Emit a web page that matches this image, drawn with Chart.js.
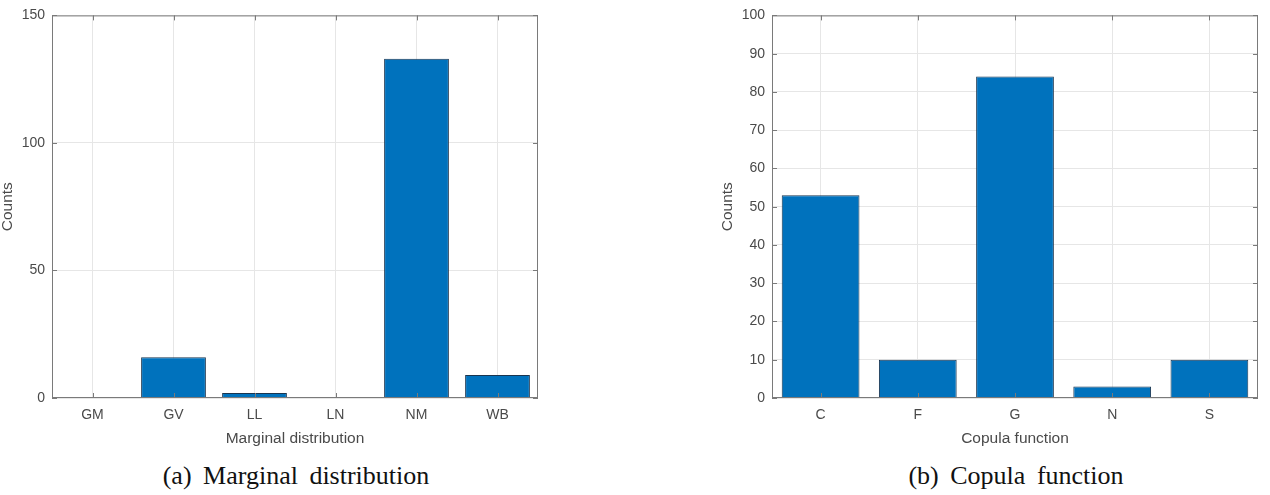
<!DOCTYPE html>
<html>
<head>
<meta charset="utf-8">
<script src="https://cdn.jsdelivr.net/npm/chart.js@4.4.0/dist/chart.umd.min.js"></script>
<style>
  body { margin: 0; background: #fff; width: 1270px; height: 495px; position: relative; overflow: hidden; }
  .box { position: absolute; top: 0; height: 446px; }
  .cap { position: absolute; top: 461px; font-family: "Liberation Serif", "Times New Roman", serif; font-size: 26px; line-height: 30px; color: #111; word-spacing: 5px; white-space: pre; transform: translateX(-50%); }
</style>
</head>
<body>
<div class="box" style="left:0; width:560px;"><canvas id="left"></canvas></div>
<div class="box" style="left:720px; width:550px;"><canvas id="right"></canvas></div>
<div class="cap" style="left:296px;">(a) Marginal distribution</div>
<div class="cap" style="left:1016px;">(b) Copula function</div>
<script>
// data
const marginalLabels = ['GM', 'GV', 'LL', 'LN', 'NM', 'WB'];
const marginalCounts = [0, 16, 2, 0, 133, 9];
const copulaLabels = ['C', 'F', 'G', 'N', 'S'];
const copulaCounts = [53, 10, 84, 3, 10];

const barBlue = '#0072BD';
const edge = '#1a3550';
const gridCol = '#e6e6e6';
const axisCol = '#7a7a7a';
const txtCol = '#4a4a4a';
const sans = "'Liberation Sans', Arial, Helvetica, sans-serif";

// matlab-ish box + inward tick marks
const boxPlugin = {
    id: 'boxPlugin',
    afterDatasetsDraw(chart) {
        const {ctx, chartArea: a, scales} = chart;
        ctx.save();
        ctx.strokeStyle = axisCol;
        ctx.lineWidth = 1;
        ctx.strokeRect(a.left + 0.5, a.top + 0.5, a.right - a.left - 1, a.bottom - a.top - 1);
        const len = 5;
        ctx.beginPath();
        scales.y.ticks.forEach((t, i) => {
            const y = Math.round(scales.y.getPixelForTick(i)) + 0.5;
            ctx.moveTo(a.left, y); ctx.lineTo(a.left + len, y);
            ctx.moveTo(a.right, y); ctx.lineTo(a.right - len, y);
        });
        scales.x.ticks.forEach((t, i) => {
            const x = Math.round(scales.x.getPixelForTick(i)) + 0.5;
            ctx.moveTo(x, a.bottom); ctx.lineTo(x, a.bottom - len);
            ctx.moveTo(x, a.top); ctx.lineTo(x, a.top + len);
        });
        ctx.stroke();
        ctx.restore();
    }
};

function makeChart(id, labels, values, yMax, yStep, xTitle, rightPad) {
    return new Chart(document.getElementById(id), {
        type: 'bar',
        data: {
            labels: labels,
            datasets: [{
                data: values,
                backgroundColor: barBlue,
                borderColor: edge,
                borderWidth: 1,
                barPercentage: 0.8,
                categoryPercentage: 1.0
            }]
        },
        options: {
            responsive: true,
            maintainAspectRatio: false,
            animation: false,
            layout: { padding: { top: 13, right: rightPad, left: 0, bottom: 0 } },
            plugins: { legend: { display: false }, tooltip: { enabled: false } },
            scales: {
                x: {
                    grid: { color: gridCol, offset: false, drawTicks: false },
                    border: { display: false },
                    ticks: { color: txtCol, font: { family: sans, size: 14 }, padding: 9, autoSkip: false, maxRotation: 0 },
                    title: { display: true, text: xTitle, color: txtCol, font: { family: sans, size: 15.5, lineHeight: 1 }, padding: 0 },
                    afterFit(s) { s.height = 48; }
                },
                y: {
                    min: 0, max: yMax,
                    grid: { color: gridCol, drawTicks: false },
                    border: { display: false },
                    ticks: { stepSize: yStep, color: txtCol, font: { family: sans, size: 14 }, padding: 7 },
                    title: { display: true, text: 'Counts', color: txtCol, font: { family: sans, size: 15.5, lineHeight: 1 }, padding: 0 },
                    afterFit(s) { s.width = 52; }
                }
            }
        },
        plugins: [boxPlugin]
    });
}

makeChart('left', marginalLabels, marginalCounts, 150, 50, 'Marginal distribution', 22);
makeChart('right', copulaLabels, copulaCounts, 100, 10, 'Copula function', 12);
</script>
</body>
</html>
